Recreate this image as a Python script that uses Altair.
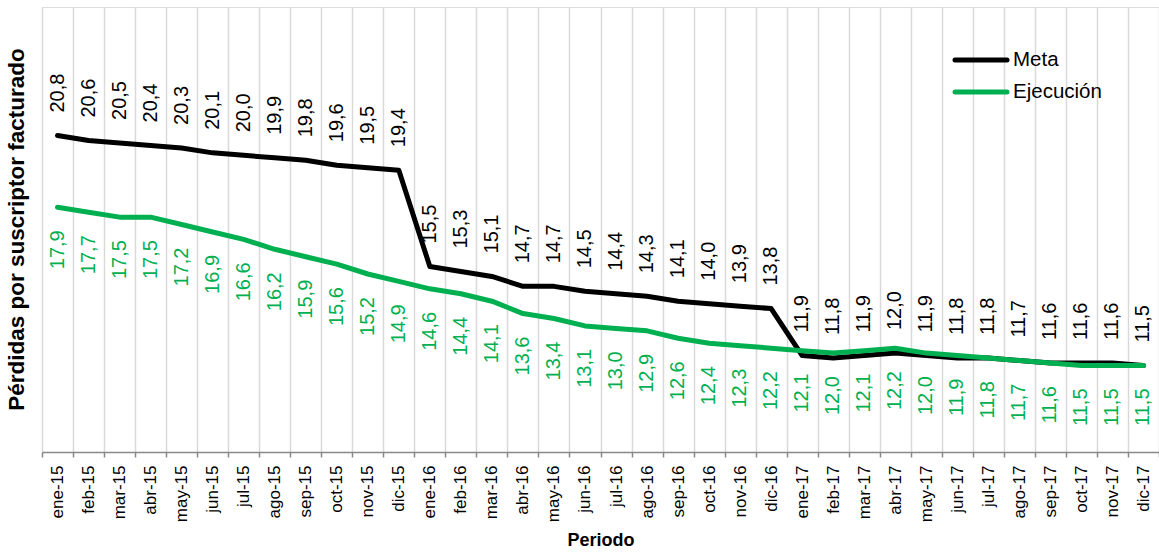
import altair as alt
import pandas as pd

meses = [
    "ene-15", "feb-15", "mar-15", "abr-15", "may-15", "jun-15", "jul-15", "ago-15", "sep-15", "oct-15", "nov-15", "dic-15",
    "ene-16", "feb-16", "mar-16", "abr-16", "may-16", "jun-16", "jul-16", "ago-16", "sep-16", "oct-16", "nov-16", "dic-16",
    "ene-17", "feb-17", "mar-17", "abr-17", "may-17", "jun-17", "jul-17", "ago-17", "sep-17", "oct-17", "nov-17", "dic-17",
]
meta = [20.8, 20.6, 20.5, 20.4, 20.3, 20.1, 20.0, 19.9, 19.8, 19.6, 19.5, 19.4,
        15.5, 15.3, 15.1, 14.7, 14.7, 14.5, 14.4, 14.3, 14.1, 14.0, 13.9, 13.8,
        11.9, 11.8, 11.9, 12.0, 11.9, 11.8, 11.8, 11.7, 11.6, 11.6, 11.6, 11.5]
ejecucion = [17.9, 17.7, 17.5, 17.5, 17.2, 16.9, 16.6, 16.2, 15.9, 15.6, 15.2, 14.9,
             14.6, 14.4, 14.1, 13.6, 13.4, 13.1, 13.0, 12.9, 12.6, 12.4, 12.3, 12.2,
             12.1, 12.0, 12.1, 12.2, 12.0, 11.9, 11.8, 11.7, 11.6, 11.5, 11.5, 11.5]
series = ["Meta", "Ejecución"]
colores = ["#000000", "#00B050"]

df = pd.concat([
    pd.DataFrame({"mes": meses, "valor": meta, "serie": series[0]}),
    pd.DataFrame({"mes": meses, "valor": ejecucion, "serie": series[1]}),
], ignore_index=True)

FONT = "Liberation Sans"

x = alt.X(
    "mes:N", sort=meses,
    scale=alt.Scale(type="band", paddingInner=0, paddingOuter=0),
    axis=alt.Axis(
        title="Periodo", labelAngle=270, labelFontSize=17, labelFont=FONT, labelColor="#000000",
        tickBand="extent", grid=True, gridColor="#d9d9d9", gridWidth=1.5,
        domainColor="#898989", domainWidth=1.5, tickColor="#898989", tickWidth=1.5, tickSize=5,
        labelPadding=8, titleFont=FONT, titleFontSize=18, titleFontWeight="bold", titleColor="#000000",
        titlePadding=10, labelOverlap=False,
    ),
)
y = alt.Y(
    "valor:Q", scale=alt.Scale(domain=[8, 26], zero=False, nice=False),
    axis=alt.Axis(
        title="Pérdidas por suscriptor facturado", labels=False, ticks=False, domain=False, grid=False,
        titleFont=FONT, titleFontSize=22.5, titleFontWeight="bold", titleColor="#000000", titlePadding=14,
        titleY=222,
    ),
)
color = alt.Color("serie:N", scale=alt.Scale(domain=series, range=colores), legend=None)

base = alt.Chart(df).encode(x=x, y=y, color=color)

lines = base.mark_line(strokeWidth=5, strokeJoin="round", strokeCap="round")

labels = base.transform_calculate(
    label="replace(format(datum.valor, '.1f'), '.', ',')"
)
meta_lbl = labels.transform_filter(alt.datum.serie == series[0]).mark_text(
    angle=270, align="left", baseline="middle", dx=23, fontSize=20, font=FONT
).encode(text="label:N")
ejec_lbl = labels.transform_filter(alt.datum.serie == series[1]).mark_text(
    angle=270, align="right", baseline="middle", dx=-23, fontSize=20, font=FONT
).encode(text="label:N")

leg_df = pd.DataFrame({"serie": series})
leg_rule_meta = alt.Chart(leg_df).transform_filter(alt.datum.serie == series[0]).mark_rule(
    strokeWidth=5, strokeCap="round", color=colores[0]
).encode(x=alt.value(913), x2=alt.value(965), y=alt.value(53))
leg_rule_ej = alt.Chart(leg_df).transform_filter(alt.datum.serie == series[1]).mark_rule(
    strokeWidth=5, strokeCap="round", color=colores[1]
).encode(x=alt.value(913), x2=alt.value(965), y=alt.value(85))
leg_text_meta = alt.Chart(leg_df).transform_filter(alt.datum.serie == series[0]).mark_text(
    align="left", baseline="middle", fontSize=20.5, font=FONT, color="#000000"
).encode(x=alt.value(971), y=alt.value(53), text="serie:N")
leg_text_ej = alt.Chart(leg_df).transform_filter(alt.datum.serie == series[1]).mark_text(
    align="left", baseline="middle", fontSize=20.5, font=FONT, color="#000000"
).encode(x=alt.value(971), y=alt.value(85), text="serie:N")

chart = alt.layer(
    lines, meta_lbl, ejec_lbl, leg_rule_meta, leg_rule_ej, leg_text_meta, leg_text_ej
).properties(
    width=1117, height=445,
    autosize=alt.AutoSizeParams(type="none"),
    padding={"left": 42, "top": 7, "right": 0, "bottom": 100},
).configure_view(stroke=None).configure(background="#ffffff")

chart.save("out.html", embed_options={"renderer": "svg", "actions": False})
